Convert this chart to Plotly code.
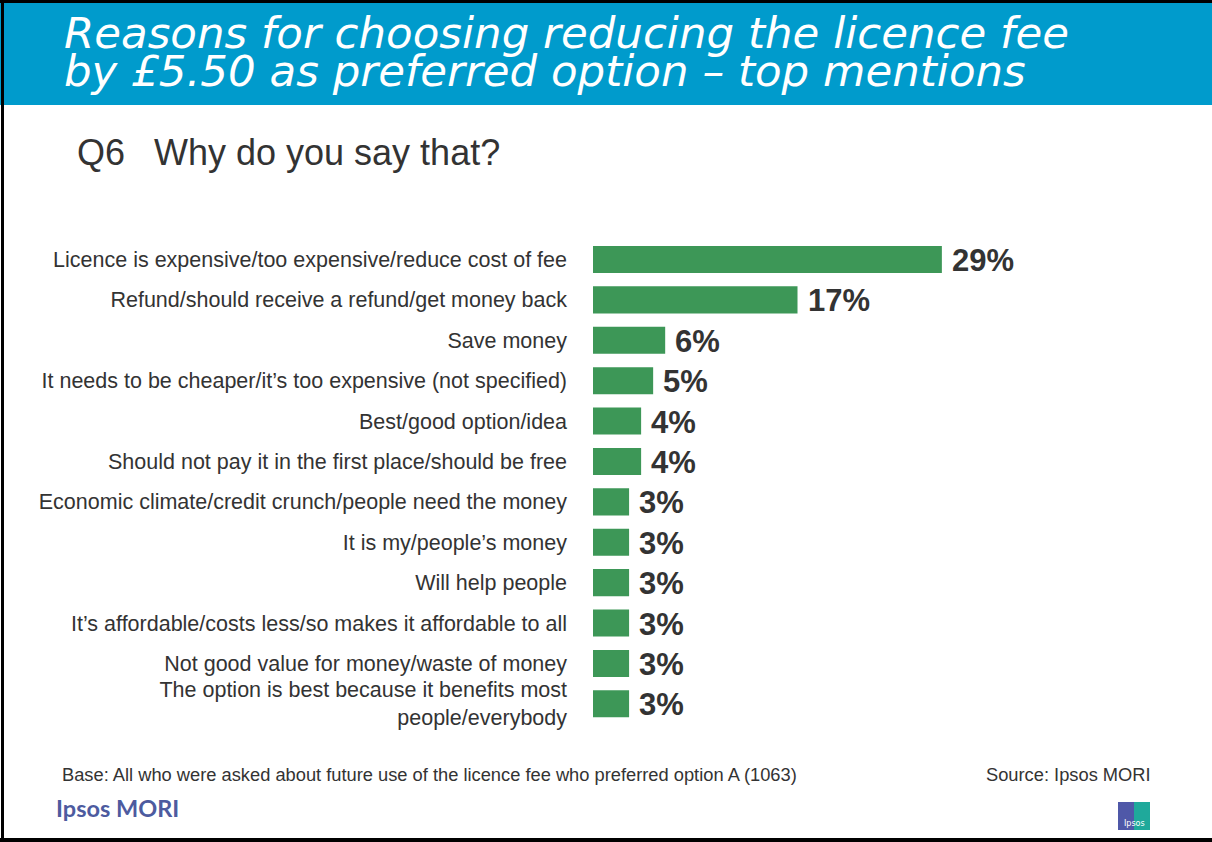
import plotly.graph_objects as go

# Survey responses: reasons for preferring the £5.50 licence fee reduction
reasons = [
    "Licence is expensive/too expensive/reduce cost of fee",
    "Refund/should receive a refund/get money back",
    "Save money",
    "It needs to be cheaper/it\u2019s too expensive (not specified)",
    "Best/good option/idea",
    "Should not pay it in the first place/should be free",
    "Economic climate/credit crunch/people need the money",
    "It is my/people\u2019s money",
    "Will help people",
    "It\u2019s affordable/costs less/so makes it affordable to all",
    "Not good value for money/waste of money",
    "The option is best because it benefits most<br>people/everybody",
]
percent = [29, 17, 6, 5, 4, 4, 3, 3, 3, 3, 3, 3]
value_labels = [f"{v}%" for v in percent]

title_lines = [
    "Reasons for choosing reducing the licence fee",
    "by £5.50 as preferred option \u2013 top mentions",
]

W, H = 1212, 842
L, R, T, B = 593, 78, 239, 118
PW, PH = W - L - R, H - T - B


def px(x):
    return (x - L) / PW


def py(y):
    return 1 - (y - T) / PH


BLUE = "#009bcc"
GREEN = "#3d9757"
TEXT = "#333333"
ARIAL = "Liberation Sans, Arial"

fig = go.Figure(
    go.Bar(
        x=percent,
        y=reasons,
        orientation="h",
        marker=dict(color=GREEN, line=dict(width=0)),
        width=0.67,
        hoverinfo="skip",
    )
)

annotations = []
for r, lab, v in zip(reasons, value_labels, percent):
    annotations.append(dict(
        x=v, y=r, xref="x", yref="y", text=f"<b>{lab}</b>", showarrow=False,
        xanchor="left", yanchor="middle", xshift=8, yshift=-1,
        font=dict(family=ARIAL, size=31, color=TEXT),
    ))

# Banner title, one annotation per line for tight leading
for line, yc in zip(title_lines, [33, 71]):
    annotations.append(dict(
        x=px(62), y=py(yc), xref="paper", yref="paper", xanchor="left", yanchor="middle",
        text=f"<i>{line}</i>", showarrow=False,
        font=dict(family="DejaVu Sans", size=43.5, color="white"),
    ))
# Question
annotations.append(dict(
    x=px(75), y=py(152), xref="paper", yref="paper", xanchor="left", yanchor="middle",
    text="Q6", showarrow=False,
    font=dict(family=ARIAL, size=36, color=TEXT),
))
annotations.append(dict(
    x=px(152), y=py(152), xref="paper", yref="paper", xanchor="left", yanchor="middle",
    text="Why do you say that?", showarrow=False,
    font=dict(family=ARIAL, size=36, color=TEXT),
))
# Footer
annotations.append(dict(
    x=px(60), y=py(774), xref="paper", yref="paper", xanchor="left", yanchor="middle",
    text="Base: All who were asked about future use of the licence fee who preferred option A (1063)",
    showarrow=False, font=dict(family=ARIAL, size=18.3, color=TEXT),
))
annotations.append(dict(
    x=px(1153), y=py(774), xref="paper", yref="paper", xanchor="right", yanchor="middle",
    text="Source: Ipsos MORI",
    showarrow=False, font=dict(family=ARIAL, size=18.3, color=TEXT),
))
annotations.append(dict(
    x=px(54), y=py(808), xref="paper", yref="paper", xanchor="left", yanchor="middle",
    text="<b>Ipsos MORI</b>",
    showarrow=False, font=dict(family="Lato, Open Sans", size=23.5, color="#4d5b9f"),
))
annotations.append(dict(
    x=px(1134), y=py(823), xref="paper", yref="paper", xanchor="center", yanchor="middle",
    text="Ipsos", showarrow=False,
    font=dict(family="DejaVu Sans", size=8, color="white"),
))


def rect(x0, y0, x1, y1, color):
    return dict(type="rect", xref="paper", yref="paper",
                x0=px(x0), x1=px(x1), y0=py(y1), y1=py(y0),
                fillcolor=color, line=dict(width=0), layer="below")


shapes = [
    rect(0, 3, W, 105, BLUE),
    rect(0, 0, W, 3, "black"),
    rect(1, 0, 4, 842, "black"),
    rect(0, 838, W, 842, "black"),
    rect(1118, 802, 1134, 830, "#4f58a8"),
    rect(1134, 802, 1150, 830, "#1fa99b"),
]

fig.update_layout(
    width=W, height=H,
    margin=dict(l=L, r=R, t=T, b=B, pad=0),
    paper_bgcolor="white", plot_bgcolor="white",
    showlegend=False,
    annotations=annotations,
    shapes=shapes,
    xaxis=dict(range=[0, PW / 12.03], visible=False, fixedrange=True),
    yaxis=dict(
        autorange="reversed", showgrid=False, zeroline=False, showline=False,
        ticks="", ticklabelstandoff=25,
        tickfont=dict(family=ARIAL, size=21.5, color=TEXT),
        fixedrange=True,
    ),
)

fig.write_html("out.html")
